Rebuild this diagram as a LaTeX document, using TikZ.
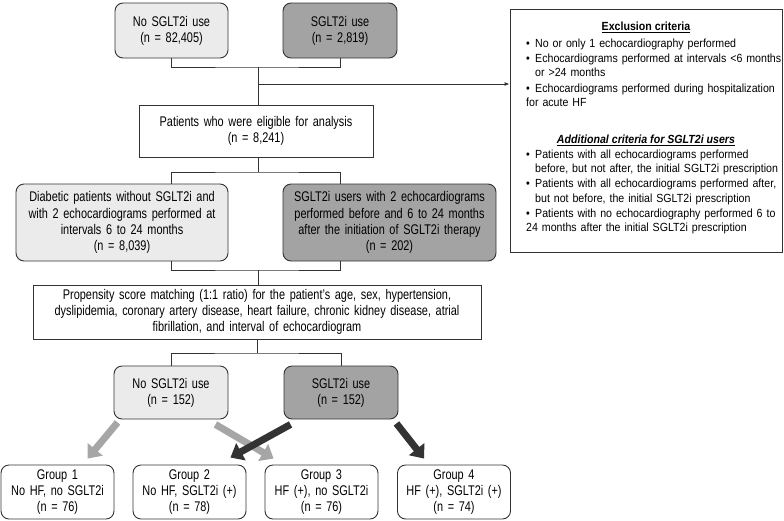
\documentclass[tikz,border=0pt]{standalone}
\usepackage{fontspec}
\setmainfont{Liberation Sans}
\newfontfamily\narrowsans[FakeStretch=0.78]{Liberation Sans}
\newfontfamily\critsans[FakeStretch=0.9]{Liberation Sans}
\usepackage{tikz}
\usetikzlibrary{arrows.meta,calc,positioning}
\definecolor{lineclr}{HTML}{333333}
\definecolor{lightfill}{HTML}{EBEBEB}
\definecolor{darkfill}{HTML}{A3A3A3}
\definecolor{lightarrow}{HTML}{A6A6A6}
\definecolor{darkarrow}{HTML}{333333}
\newcommand{\critem}[1]{\par\hangindent=9pt\hangafter=1\noindent\makebox[9pt][l]{\textbullet}#1}

\begin{document}
\begin{tikzpicture} [
    x = 1pt, y = -1pt,
    inner sep = 0,
    every node/.style = { align = center, font = \narrowsans\fontsize{14}{16.2}\selectfont },
    box/.style = { draw = lineclr, line width = 0.9pt, minimum width = #1, text width = #1-6 },
    rbox/.style = { box = #1, rounded corners = 8pt },
    light/.style = { fill = lightfill },
    dark/.style = { fill = darkfill },
    link/.style = { draw = lineclr, line width = 0.9pt },
    thinarrow/.style = { link, -{Latex[length=5pt,width=4pt]} },
    fatlight/.style = { draw = lightarrow, line width = 7pt, -{Triangle[length=12pt,width=19pt]} },
    fatdark/.style = { draw = darkarrow, line width = 7pt, -{Triangle[length=12pt,width=19pt]} },
    crithead/.style = { font = \critsans\fontsize{11.8}{14.2}\selectfont },
    critlist/.style = { anchor = north west, align = left, text width = 256pt,
        font = \critsans\fontsize{11.8}{14.2}\selectfont\setlength{\parskip}{1pt} }
    ]

    \useasboundingbox (0,0) rectangle (784,520);

    \node[rbox = 113, light, minimum height = 55] (nosg) at (171.5,30.5) {No SGLT2i use\\(n = 82,405)};
    \node[rbox = 114, dark, minimum height = 55] (sg) at (340,30.5) {SGLT2i use\\(n = 2,819)};

    \node[box = 272, minimum height = 243] (excl) at (646,130.5) {};
    \node[crithead] (exclhead) at (646,27) {\textbf{\underline{Exclusion criteria}}};
    \node[critlist] (excllist) at (526,32) {%
        \critem{No or only 1 echocardiography performed}
        \critem{Echocardiograms performed at intervals <6 months\newline or >24 months}
        \critem{Echocardiograms performed during hospitalization\newline for acute HF}};
    \node[crithead] (addhead) at (646,140) {\textbf{\textit{\underline{Additional criteria for SGLT2i users}}}};
    \node[critlist] (addlist) at (526,143) {%
        \critem{Patients with all echocardiograms performed\newline before, but not after, the initial SGLT2i prescription}
        \critem{Patients with all echocardiograms performed after,\newline but not before, the initial SGLT2i prescription}
        \critem{Patients with no echocardiography performed 6 to\newline 24 months after the initial SGLT2i prescription}};

    \node[box = 234, minimum height = 52] (elig) at (256,131) {Patients who were eligible for analysis\\(n = 8,241)};

    \node[rbox = 212, light, minimum height = 77] (dia) at (122,222.5) {Diabetic patients without SGLT2i and\\with 2 echocardiograms performed at\\intervals 6 to 24 months\\(n = 8,039)};
    \node[rbox = 213, dark, minimum height = 77] (users) at (389.5,222.5) {SGLT2i users with 2 echocardiograms\\performed before and 6 to 24 months\\after the initiation of SGLT2i therapy\\(n = 202)};

    \node[box = 448, minimum height = 54] (psm) at (257,312) {Propensity score matching (1:1 ratio) for the patient’s age, sex, hypertension,\\dyslipidemia, coronary artery disease, heart failure, chronic kidney disease, atrial\\fibrillation, and interval of echocardiogram};

    \node[rbox = 114, light, minimum height = 53] (ctrl) at (171,392.5) {No SGLT2i use\\(n = 152)};
    \node[rbox = 114, dark, minimum height = 53] (trt) at (341,392.5) {SGLT2i use\\(n = 152)};

    \node[rbox = 113, minimum height = 54] (g1) at (57.5,492) {Group 1\\No HF, no SGLT2i\\(n = 76)};
    \node[rbox = 113, minimum height = 54] (g2) at (189.5,492) {Group 2\\No HF, SGLT2i (+)\\(n = 78)};
    \node[rbox = 113, minimum height = 54] (g3) at (321.5,492) {Group 3\\HF (+), no SGLT2i\\(n = 76)};
    \node[rbox = 113, minimum height = 54] (g4) at (454,492) {Group 4\\HF (+), SGLT2i (+)\\(n = 74)};

    \coordinate (j1) at (258,67);
    \coordinate (j2) at (258,84);
    \draw[link] (nosg.south) |- (j1) -| (sg.south);
    \draw[link] (j1) -- (elig.north -| j1);
    \draw[thinarrow] (j2) -- (j2 -| excl.west);

    \coordinate (j3) at (258,172);
    \draw[link] (elig.south -| j3) -- (j3);
    \draw[link] (dia.north -| nosg.south) |- (j3) -| (users.north -| sg.south);

    \coordinate (j4) at (258,270);
    \draw[link] (dia.south -| nosg.south) |- (j4) -| (users.south -| sg.south);
    \draw[link] (j4) -- (psm.north -| j4);

    \coordinate (j5) at (257,353);
    \draw[link] (psm.south -| j5) -- (j5);
    \draw[link] (ctrl.north) |- (j5) -| (trt.north);

    \draw[fatlight] ($(ctrl.south west)+(4,3)$) -- ($(g1.north)+(30,-6)$);
    \draw[fatlight] ($(ctrl.south east)+(-13,5)$) -- ($(g3.north west)+(9,-6)$);
    \draw[fatdark] ($(trt.south west)+(7,5)$) -- ($(g2.north east)+(-16,-7)$);
    \draw[fatdark] ($(trt.south east)+(-2,4)$) -- ($(g4.north west)+(27,-6)$);
\end{tikzpicture}
\end{document}
